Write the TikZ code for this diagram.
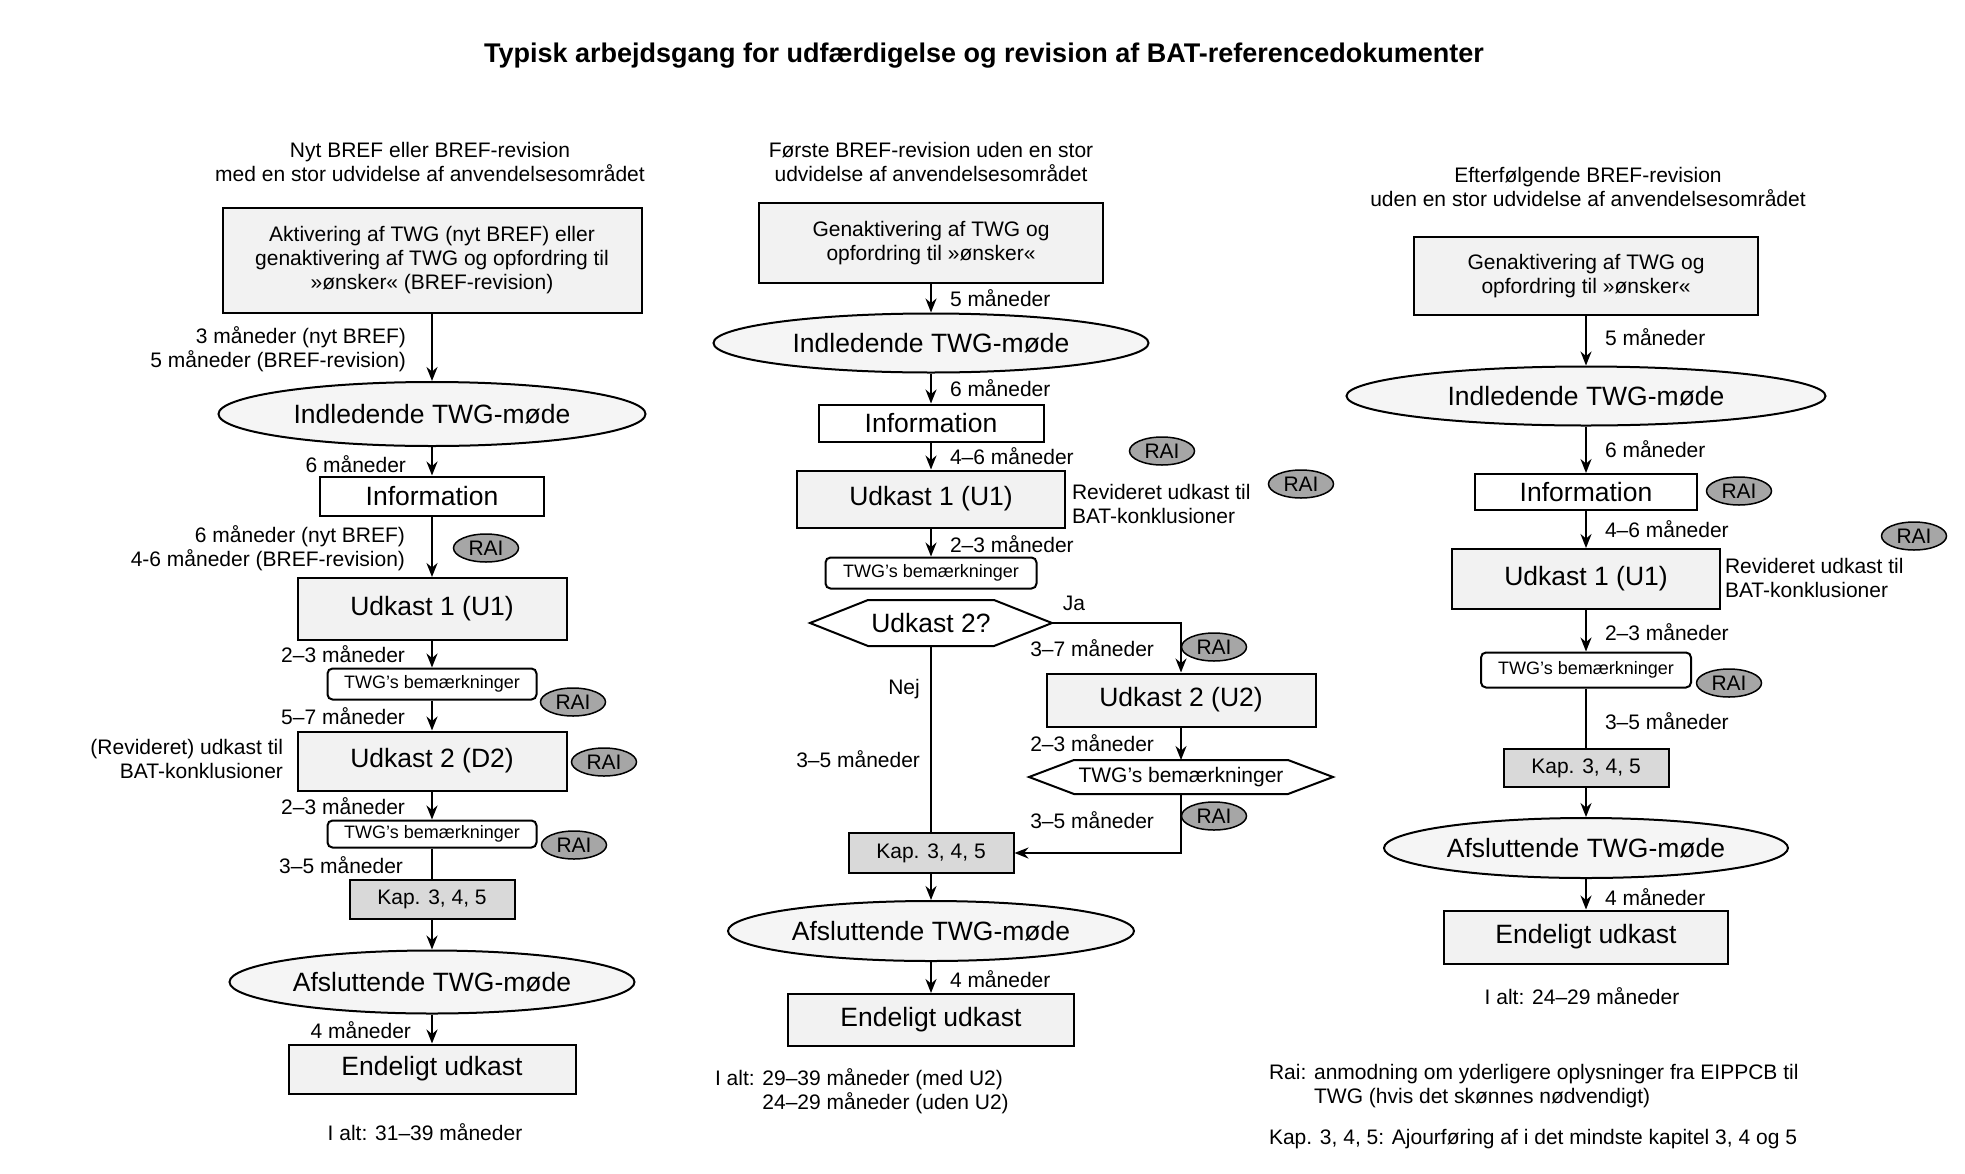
\documentclass[tikz,border=0pt]{standalone}
\usepackage{fontspec}
\setmainfont{Liberation Sans}
\usepackage{tikz}
\usetikzlibrary{shapes.geometric, arrows.meta}
\definecolor{boxgray}{HTML}{F2F2F2}
\definecolor{meetgray}{HTML}{F5F5F5}
\definecolor{kapgray}{HTML}{D9D9D9}
\definecolor{raigray}{HTML}{A6A6A6}
\newcommand{\fLabel}{\fontsize{21}{24}\selectfont}
\newcommand{\fBig}{\fontsize{26.5}{31}\selectfont}
\newcommand{\fSmall}{\fontsize{18}{21}\selectfont}
\newcommand{\fTitle}{\fontsize{27}{32}\selectfont\bfseries}

\begin{document}
\begin{tikzpicture}[x=1pt, y=-1pt, font=\fLabel, line width=2pt,
  box/.style={draw, fill=boxgray, inner sep=0pt, align=center},
  infobox/.style={draw, fill=white, inner sep=0pt, font=\fBig},
  meet/.style={ellipse, draw, fill=meetgray, inner sep=0pt, font=\fBig},
  remark/.style={draw, fill=white, rounded corners=5pt, inner sep=0pt, font=\fSmall},
  kapbox/.style={draw, fill=kapgray, inner sep=0pt},
  rai/.style={ellipse, draw, fill=raigray, minimum width=65pt, minimum height=28pt, inner sep=0pt, line width=1.5pt},
  lbl/.style={inner sep=0pt},
  arr/.style={-{Stealth[length=14pt, width=11pt]}}]
  \useasboundingbox (0,0) rectangle (1965,1173);

  \node[font=\fTitle] (title) at (984,56) {Typisk arbejdsgang for udfærdigelse og revision af BAT-referencedokumenter};

  \node[align=center] (hd1) at (430,162) {Nyt BREF eller BREF-revision\\med en stor udvidelse af anvendelsesområdet};
  \node[align=center] (hd2) at (931,162) {Første BREF-revision uden en stor\\udvidelse af anvendelsesområdet};
  \node[align=center] (hd3) at (1588,187) {Efterfølgende BREF-revision\\uden en stor udvidelse af anvendelsesområdet};

  % venstre kolonne
  \node[box, minimum width=419pt, minimum height=105pt] (act1) at (432,260)
    {Aktivering af TWG (nyt BREF) eller\\genaktivering af TWG og opfordring til\\»ønsker« (BREF-revision)};
  \node[meet, minimum width=427pt, minimum height=64pt] (ind1) at (432,414) {Indledende TWG-møde};
  \node[infobox, minimum width=224pt, minimum height=39pt] (inf1) at (432,496) {Information};
  \node[box, font=\fBig, minimum width=269pt, minimum height=62pt] (u1a) at (432,609) {Udkast 1 (U1)};
  \node[remark, minimum width=209pt, minimum height=31pt] (twg1a) at (432,684) {TWG's bemærkninger};
  \node[box, font=\fBig, minimum width=269pt, minimum height=59pt] (u2a) at (432,761) {Udkast 2 (D2)};
  \node[remark, minimum width=209pt, minimum height=27pt] (twg1b) at (432,834) {TWG's bemærkninger};
  \node[kapbox, minimum width=165pt, minimum height=39pt] (kap1) at (432,899) {Kap. 3, 4, 5};
  \node[meet, minimum width=405pt, minimum height=63pt] (afs1) at (432,982) {Afsluttende TWG-møde};
  \node[box, font=\fBig, minimum width=287pt, minimum height=49pt] (end1) at (432,1069) {Endeligt udkast};

  \node[lbl, anchor=east, align=right] (m1a) at (407,349) {3 måneder (nyt BREF)\\5 måneder (BREF-revision)};
  \node[lbl, anchor=east] (m1b) at (407,464) {6 måneder};
  \node[lbl, anchor=east, align=right] (m1c) at (406,548) {6 måneder (nyt BREF)\\4-6 måneder (BREF-revision)};
  \node[lbl, anchor=east] (m1d) at (406,654) {2–3 måneder};
  \node[lbl, anchor=east] (m1e) at (406,716) {5–7 måneder};
  \node[lbl, anchor=east, align=right] (rev1) at (284,759) {(Revideret) udkast til\\BAT-konklusioner};
  \node[lbl, anchor=east] (m1f) at (406,806) {2–3 måneder};
  \node[lbl, anchor=east] (m1g) at (404,865) {3–5 måneder};
  \node[lbl, anchor=east] (m1h) at (412,1030) {4 måneder};
  \node[lbl] (tot1) at (425,1132) {I alt: 31–39 måneder};

  \node[rai] (rai1a) at (486,548) {RAI};
  \node[rai] (rai1b) at (573,702) {RAI};
  \node[rai] (rai1c) at (604,762) {RAI};
  \node[rai] (rai1d) at (574,845) {RAI};

  \draw[arr] (act1) -- (ind1);
  \draw[arr] (ind1) -- (inf1);
  \draw[arr] (inf1) -- (u1a);
  \draw[arr] (u1a) -- (twg1a);
  \draw[arr] (twg1a) -- (u2a);
  \draw[arr] (u2a) -- (twg1b);
  \draw (twg1b) -- (kap1);
  \draw[arr] (kap1) -- (afs1);
  \draw[arr] (afs1) -- (end1);

  % midterste kolonne
  \node[box, minimum width=344pt, minimum height=80pt] (act2) at (931,243)
    {Genaktivering af TWG og\\opfordring til »ønsker«};
  \node[meet, minimum width=435pt, minimum height=59pt] (ind2) at (931,343) {Indledende TWG-møde};
  \node[infobox, minimum width=225pt, minimum height=37pt] (inf2) at (931,423) {Information};
  \node[box, font=\fBig, minimum width=268pt, minimum height=57pt] (u1b) at (931,499) {Udkast 1 (U1)};
  \node[remark, minimum width=211pt, minimum height=31pt] (twg2) at (931,573) {TWG's bemærkninger};
  \node[font=\fBig, inner sep=0pt, minimum width=240pt, minimum height=44pt] (dec) at (931,623) {Udkast 2?};
  \draw (dec.west) -- ([xshift=58pt]dec.north west) -- ([xshift=-58pt]dec.north east) -- (dec.east)
    -- ([xshift=-58pt]dec.south east) -- ([xshift=58pt]dec.south west) -- cycle;
  \node[box, font=\fBig, minimum width=269pt, minimum height=53pt] (u2b) at (1181,700) {Udkast 2 (U2)};
  \node[inner sep=0pt, minimum width=302pt, minimum height=32pt] (twg3) at (1181,777) {TWG's bemærkninger};
  \draw (twg3.west) -- ([xshift=45pt]twg3.north west) -- ([xshift=-45pt]twg3.north east) -- (twg3.east)
    -- ([xshift=-45pt]twg3.south east) -- ([xshift=45pt]twg3.south west) -- cycle;
  \node[kapbox, minimum width=165pt, minimum height=40pt] (kap2) at (931,853) {Kap. 3, 4, 5};
  \node[meet, minimum width=406pt, minimum height=60pt] (afs2) at (931,931) {Afsluttende TWG-møde};
  \node[box, font=\fBig, minimum width=286pt, minimum height=52pt] (end2) at (931,1020) {Endeligt udkast};

  \node[lbl, anchor=west] (m2a) at (949,298) {5 måneder};
  \node[lbl, anchor=west] (m2b) at (949,388) {6 måneder};
  \node[lbl, anchor=west] (m2c) at (949,456) {4–6 måneder};
  \node[lbl, anchor=west, align=left] (rev2) at (1071,504) {Revideret udkast til\\BAT-konklusioner};
  \node[lbl, anchor=west] (m2d) at (949,544) {2–3 måneder};
  \node[lbl] (ja) at (1074,603) {Ja};
  \node[lbl] (nej) at (904,689) {Nej};
  \node[lbl, anchor=east] (m2e) at (1155,648) {3–7 måneder};
  \node[lbl, anchor=east] (m2f) at (1155,743) {2–3 måneder};
  \node[lbl, anchor=east] (m2g) at (1155,820) {3–5 måneder};
  \node[lbl, anchor=east] (m2h) at (921,759) {3–5 måneder};
  \node[lbl, anchor=west] (m2i) at (949,979) {4 måneder};
  \node[lbl, anchor=north west, align=left] (tot2) at (714,1068)
    {I alt: 29–39 måneder (med U2)\\\phantom{I alt: }24–29 måneder (uden U2)};

  \node[rai] (rai2a) at (1162,451) {RAI};
  \node[rai] (rai2b) at (1301,484) {RAI};
  \node[rai] (rai2c) at (1214,647) {RAI};
  \node[rai] (rai2d) at (1214,816) {RAI};

  \draw[arr] (act2) -- (ind2);
  \draw[arr] (ind2) -- (inf2);
  \draw[arr] (inf2) -- (u1b);
  \draw[arr] (u1b) -- (twg2);
  \draw[arr] (dec.east) -| (u2b);
  \draw[arr] (u2b) -- (twg3);
  \draw[arr] (twg3) |- (kap2);
  \draw (dec) -- (kap2);
  \draw[arr] (kap2) -- (afs2);
  \draw[arr] (afs2) -- (end2);

  % hoejre kolonne
  \node[box, minimum width=344pt, minimum height=78pt] (act3) at (1586,276)
    {Genaktivering af TWG og\\opfordring til »ønsker«};
  \node[meet, minimum width=479pt, minimum height=59pt] (ind3) at (1586,396) {Indledende TWG-møde};
  \node[infobox, minimum width=222pt, minimum height=36pt] (inf3) at (1586,492) {Information};
  \node[box, font=\fBig, minimum width=268pt, minimum height=60pt] (u1c) at (1586,579) {Udkast 1 (U1)};
  \node[remark, minimum width=210pt, minimum height=35pt] (twg4) at (1586,670) {TWG's bemærkninger};
  \node[kapbox, minimum width=165pt, minimum height=38pt] (kap3) at (1586,768) {Kap. 3, 4, 5};
  \node[meet, minimum width=404pt, minimum height=60pt] (afs3) at (1586,848) {Afsluttende TWG-møde};
  \node[box, font=\fBig, minimum width=284pt, minimum height=53pt] (end3) at (1586,937) {Endeligt udkast};

  \node[lbl, anchor=west] (m3a) at (1604,337) {5 måneder};
  \node[lbl, anchor=west] (m3b) at (1604,449) {6 måneder};
  \node[lbl, anchor=west] (m3c) at (1604,529) {4–6 måneder};
  \node[lbl, anchor=west, align=left] (rev3) at (1724,578) {Revideret udkast til\\BAT-konklusioner};
  \node[lbl, anchor=west] (m3d) at (1604,632) {2–3 måneder};
  \node[lbl, anchor=west] (m3e) at (1604,721) {3–5 måneder};
  \node[lbl, anchor=west] (m3f) at (1604,897) {4 måneder};
  \node[lbl] (tot3) at (1582,996) {I alt: 24–29 måneder};

  \node[rai] (rai3a) at (1739,491) {RAI};
  \node[rai] (rai3b) at (1914,536) {RAI};
  \node[rai] (rai3c) at (1729,683) {RAI};

  \draw[arr] (act3) -- (ind3);
  \draw[arr] (ind3) -- (inf3);
  \draw[arr] (inf3) -- (u1c);
  \draw[arr] (u1c) -- (twg4);
  \draw (twg4) -- (kap3);
  \draw[arr] (kap3) -- (afs3);
  \draw[arr] (afs3) -- (end3);

  \node[lbl, anchor=west, align=left] (leg1) at (1268,1086)
    {Rai: anmodning om yderligere oplysninger fra EIPPCB til\\\phantom{Rai: }TWG (hvis det skønnes nødvendigt)};
  \node[lbl, anchor=west] (leg2) at (1268,1139) {Kap. 3, 4, 5: Ajourføring af i det mindste kapitel 3, 4 og 5};
\end{tikzpicture}
\end{document}
